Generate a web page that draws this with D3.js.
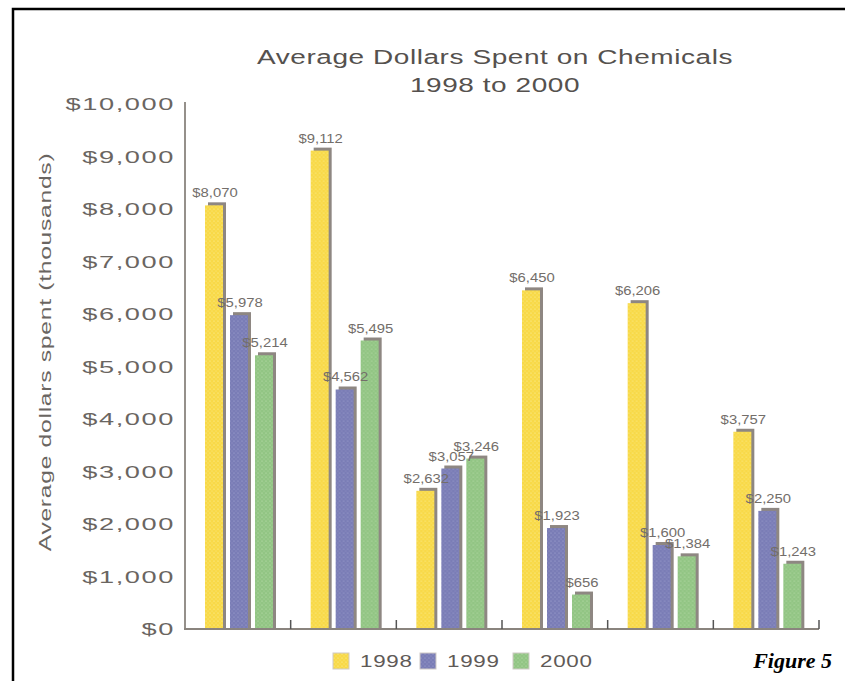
<!DOCTYPE html>
<html><head><meta charset="utf-8">
<script src="https://cdn.jsdelivr.net/npm/d3@7"></script>
<style>body{margin:0;background:#fff}svg{display:block}</style>
</head><body>
<script>
// ---- data ----
const categories = ["Group 1","Group 2","Group 3","Group 4","Group 5","Group 6"];
const seriesNames = ["1998","1999","2000"];
const values1998 = [8070, 9112, 2632, 6450, 6206, 3757];
const values1999 = [5978, 4562, 3057, 1923, 1600, 2250];
const values2000 = [5214, 5495, 3246, 656, 1384, 1243];
const yTicks = [0,1000,2000,3000,4000,5000,6000,7000,8000,9000,10000];
const titleLines = ["Average Dollars Spent on Chemicals","1998 to 2000"];
const yTitle = "Average dollars spent (thousands)";
const figureLabel = "Figure 5";

const seriesValues = [values1998, values1999, values2000];
const colors = ["#f8d948","#7a7db6","#92c584"];
const dotColors = ["#fdf3a8","#a8a9d6","#c3e3b6"];

const W=845,H=681;
const svg=d3.select("body").append("svg").attr("width",W).attr("height",H);

// patterns
const defs=svg.append("defs");
colors.forEach((c,i)=>{
  const p=defs.append("pattern").attr("id","pat"+i).attr("patternUnits","userSpaceOnUse")
    .attr("width",4).attr("height",4);
  p.append("rect").attr("width",4).attr("height",4).attr("fill",c);
  p.append("circle").attr("cx",1).attr("cy",1).attr("r",0.6).attr("fill",dotColors[i]);
  p.append("circle").attr("cx",3).attr("cy",3).attr("r",0.5).attr("fill",dotColors[i]).attr("opacity",0.7);
});

// frame
svg.append("rect").attr("x",13).attr("y",9).attr("width",W+20).attr("height",H+20)
  .attr("fill","none").attr("stroke","#000").attr("stroke-width",2.5);

const x0=d3.scaleBand().domain(categories).range([185,819]);
const x1=d3.scaleBand().domain(seriesNames).range([20,88]).paddingInner(0.28);
const y=d3.scaleLinear().domain([0,10000]).range([629,104]);

const axisGray="#8a847e", textGray="#6a6561";
const fmt=d3.format("$,");

function stretched(sel,s){
  return sel.attr("transform",function(){
    const tx=+this.getAttribute("data-x"), ty=+this.getAttribute("data-y");
    const r=this.getAttribute("data-r")||0;
    return `translate(${tx},${ty}) rotate(${r}) scale(${s},1)`;
  });
}

// title
svg.selectAll("text.title").data(titleLines).join("text").attr("class","title")
  .attr("data-x",495).attr("data-y",(d,i)=>64+i*28)
  .attr("text-anchor","middle").attr("font-family","Liberation Sans, Arial, sans-serif")
  .attr("font-size",20).attr("fill","#55514e").attr("letter-spacing",0.4)
  .text(d=>d).call(stretched,1.4);

// y tick labels
svg.selectAll("text.ytick").data(yTicks).join("text").attr("class","ytick")
  .attr("data-x",175).attr("data-y",d=>y(d)+6)
  .attr("text-anchor","end").attr("font-family","Liberation Sans, Arial, sans-serif")
  .attr("font-size",17).attr("fill",textGray).attr("letter-spacing",1)
  .text(d=>fmt(d)).call(stretched,1.6);

// y title
svg.append("text").attr("data-x",51).attr("data-y",352).attr("data-r",-90)
  .attr("text-anchor","middle").attr("font-family","Liberation Sans, Arial, sans-serif")
  .attr("font-size",17).attr("fill",textGray).attr("letter-spacing",0.5)
  .text(yTitle).call(stretched,1.45);

// bars
const groups=svg.selectAll("g.grp").data(categories).join("g").attr("class","grp")
  .attr("transform",d=>`translate(${x0(d)},0)`);
const barData=(c,ci)=>seriesNames.map((s,si)=>({s,si,v:seriesValues[si][ci]}));
groups.each(function(c,ci){
  const g=d3.select(this);
  const bd=barData(c,ci);
  g.selectAll("rect.shadow").data(bd).join("rect").attr("class","shadow")
    .attr("x",d=>x1(d.s)+3).attr("y",d=>y(d.v)-3)
    .attr("width",x1.bandwidth()).attr("height",d=>y(0)-y(d.v)+3).attr("fill","#8e8782");
  g.selectAll("rect.bar").data(bd).join("rect").attr("class","bar")
    .attr("x",d=>x1(d.s)).attr("y",d=>y(d.v))
    .attr("width",x1.bandwidth()).attr("height",d=>y(0)-y(d.v)).attr("fill",d=>`url(#pat${d.si})`);
  g.selectAll("text.val").data(bd).join("text").attr("class","val")
    .attr("data-x",d=>x1(d.s)+x1.bandwidth()/2+1).attr("data-y",d=>y(d.v)-8)
    .attr("text-anchor","middle").attr("font-family","Liberation Sans, Arial, sans-serif")
    .attr("font-size",13.5).attr("fill","#736e6a")
    .text(d=>fmt(d.v)).call(stretched,1.1);
});

// axes lines
svg.append("line").attr("x1",185).attr("x2",185).attr("y1",y(10000)-2).attr("y2",y(0))
  .attr("stroke",axisGray).attr("stroke-width",1.8);
svg.append("line").attr("x1",184).attr("x2",x0.range()[1]).attr("y1",y(0)).attr("y2",y(0))
  .attr("stroke",axisGray).attr("stroke-width",1.8);
const bounds=categories.slice(1).map(c=>x0(c)).concat([x0.range()[1]]);
svg.selectAll("line.xt").data(bounds).join("line").attr("class","xt")
  .attr("x1",d=>d).attr("x2",d=>d).attr("y1",y(0)).attr("y2",y(0)-9)
  .attr("stroke","#555").attr("stroke-width",1.5);

// legend
const legX=[333,420,513];
const leg=svg.selectAll("g.leg").data(seriesNames).join("g").attr("class","leg")
  .attr("transform",(d,i)=>`translate(${legX[i]},653)`);
leg.append("rect").attr("width",16).attr("height",16).attr("fill",(d,i)=>`url(#pat${i})`)
  .attr("stroke","#cfcac5").attr("stroke-width",1);
leg.append("text").attr("data-x",27).attr("data-y",14).attr("font-family","Liberation Sans, Arial, sans-serif")
  .attr("font-size",16).attr("fill","#5f5a57").attr("letter-spacing",0.5)
  .text(d=>d).call(stretched,1.4);

// figure label
svg.append("text").attr("x",832).attr("y",668).attr("text-anchor","end")
  .attr("font-family","Liberation Serif, Times New Roman, serif").attr("font-style","italic")
  .attr("font-weight","bold").attr("font-size",22).attr("fill","#000").text(figureLabel);
</script>
</body></html>
